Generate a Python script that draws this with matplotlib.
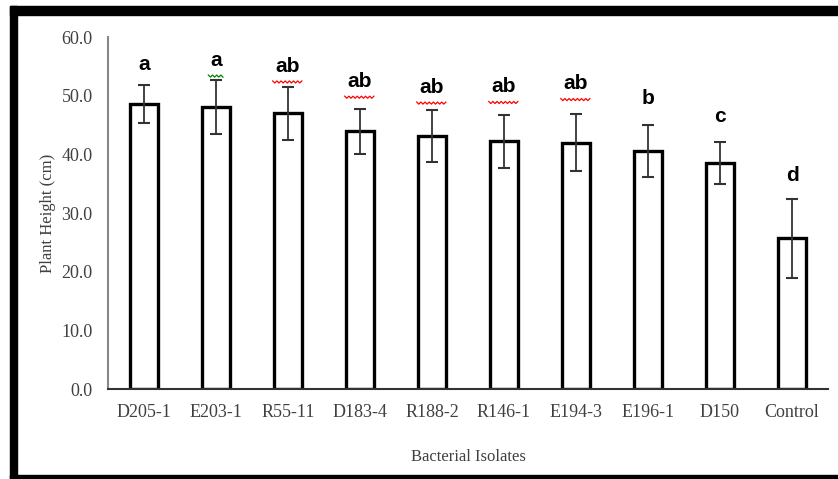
import numpy as np
import matplotlib
matplotlib.use("Agg")
import matplotlib.pyplot as plt
import matplotlib.transforms as mtrans
from matplotlib.patches import Rectangle

isolates = ["D205-1", "E203-1", "R55-11", "D183-4", "R188-2",
            "R146-1", "E194-3", "E196-1", "D150", "Control"]
height = [48.6, 48.0, 47.0, 43.9, 43.1, 42.2, 42.0, 40.6, 38.5, 25.7]
err = [3.3, 4.6, 4.5, 3.9, 4.4, 4.5, 4.8, 4.4, 3.6, 6.7]
letters = ["a", "a", "ab", "ab", "ab", "ab", "ab", "b", "c", "d"]
letter_y = [55.3, 56.0, 55.0, 52.4, 51.4, 51.5, 52.0, 49.5, 46.4, 36.4]
# spell-check squiggles under the letters (word artefact): none / green / red
squiggle = [None, "green", "red", "red", "red", "red", "red", None, None, None]

fig = plt.figure(figsize=(8.38, 4.79), dpi=100)
ax = fig.add_axes([108/838, 1 - 389/479, 720/838, 352/479])

x = np.arange(len(isolates))
ax.bar(x, height, width=0.4, color="white", edgecolor="black", linewidth=2.4, zorder=2)
ax.errorbar(x, height, yerr=err, fmt="none", ecolor="#333333", elinewidth=1.3,
            capsize=4, capthick=1.5, zorder=3)

for i in range(len(x)):
    ax.text(x[i], letter_y[i], letters[i], ha="center", va="center",
            fontsize=15, fontweight="bold", family="Liberation Sans", color="black")
    if squiggle[i] is not None:
        # zigzag drawn in points below the letter
        w = 5.5 * len(letters[i])
        xs = np.arange(-w, w + 0.1, 1.5)
        ys = np.where(np.arange(len(xs)) % 2 == 0, 0.0, -1.5) - 10.5
        anchor = mtrans.ScaledTranslation(x[i], letter_y[i], ax.transData)
        t = mtrans.Affine2D().scale(1 / 72.0) + fig.dpi_scale_trans + anchor
        ax.plot(xs, ys, color=squiggle[i], linewidth=0.9, transform=t, clip_on=False)

ax.set_xlim(-0.5, 9.5)
ax.set_ylim(0, 60)
ax.set_yticks(np.arange(0, 61, 10))
ax.set_yticklabels(["%.1f" % v for v in np.arange(0, 61, 10)])
ax.set_xticks(x)
ax.set_xticklabels(isolates)
ax.tick_params(axis="both", length=0, labelsize=13, labelcolor="#404040", pad=11)
ax.tick_params(axis="y", pad=11)
for lab in ax.get_xticklabels() + ax.get_yticklabels():
    lab.set_family("Liberation Serif")

ax.spines["top"].set_visible(False)
ax.spines["right"].set_visible(False)
ax.spines["left"].set_color("#888888")
ax.spines["left"].set_linewidth(1.5)
ax.spines["bottom"].set_color("#333333")
ax.spines["bottom"].set_linewidth(1.5)

ax.set_xlabel("Bacterial Isolates", family="Liberation Serif", fontsize=12,
              color="#404040", labelpad=20)
ax.set_ylabel("Plant Height (cm)", family="Liberation Serif", fontsize=12,
              color="#404040", labelpad=4)

# black frame around the picture (top, left, bottom)
fig.patches.append(Rectangle((10/838, 1 - 15/479), 1, 9/479, transform=fig.transFigure,
                             color="black", zorder=10))
fig.patches.append(Rectangle((10/838, 0), 7/838, 1 - 6/479, transform=fig.transFigure,
                             color="black", zorder=10))
fig.patches.append(Rectangle((10/838, 0), 1, 4/479, transform=fig.transFigure,
                             color="black", zorder=10))

fig.savefig("out.png", dpi=100)
